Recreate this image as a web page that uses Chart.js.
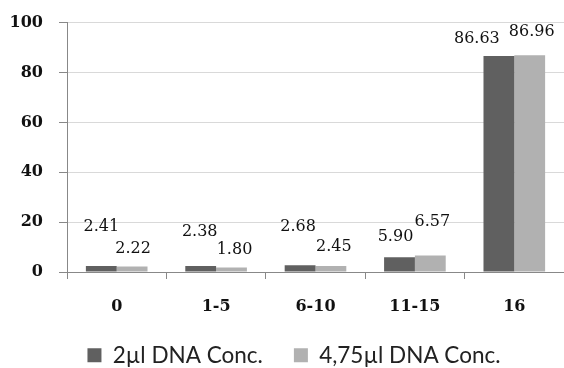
<!DOCTYPE html>
<html>
<head>
<meta charset="utf-8">
<script src="https://cdn.jsdelivr.net/npm/chart.js@4"></script>
<style>
  html, body { margin: 0; padding: 0; background: #fff; overflow: hidden; }
  #wrap { width: 564px; height: 368px; }
</style>
</head>
<body>
<div id="wrap"><canvas id="chart"></canvas></div>
<script>
const categories = ['0', '1-5', '6-10', '11-15', '16'];
const seriesNames = ['2\u00b5l DNA Conc.', '4,75\u00b5l DNA Conc.'];
const conc2 = [2.41, 2.38, 2.68, 5.90, 86.63];
const conc475 = [2.22, 1.80, 2.45, 6.57, 86.96];
const yTicks = [0, 20, 40, 60, 80, 100];

// hand-placed value labels, like the original (pixels above bar top / sideways shift)
const labelLift = [[39, 34, 38, 20, 17], [18, 18, 19, 34, 23]];
const labelShiftX = [[0, -1, -2, -4, -22], [1, 3, 3, 2, 2]];

const valueLabels = {
  id: 'valueLabels',
  afterDatasetsDraw(chart) {
    const c = chart.ctx;
    c.save();
    c.font = '16px "DejaVu Serif"';
    c.fillStyle = '#111';
    c.textAlign = 'center';
    c.textBaseline = 'middle';
    chart.data.datasets.forEach((ds, i) => {
      chart.getDatasetMeta(i).data.forEach((bar, j) => {
        c.fillText(ds.data[j].toFixed(2), bar.x + labelShiftX[i][j], bar.y - labelLift[i][j]);
      });
    });
    c.restore();
  }
};

// legend: wide item spacing but a short block, row sits near the bottom edge
const legendBox = {
  id: 'legendBox',
  beforeInit(chart) {
    const lg = chart.legend;
    if (!lg) return;
    const fit = lg.fit;
    lg.fit = function () { fit.call(this); this.height = 40; };
  },
  afterLayout(chart) {
    const lg = chart.legend;
    if (!lg) return;
    lg.top -= 15;
    lg.height += 15;
    lg.left += 12;
    lg.right += 12;
  }
};

function draw() {
  new Chart(document.getElementById('chart'), {
    type: 'bar',
    data: {
      labels: categories,
      datasets: [
        { label: seriesNames[0], data: conc2, backgroundColor: '#606060' },
        { label: seriesNames[1], data: conc475, backgroundColor: '#b1b1b1' }
      ]
    },
    options: {
      responsive: true,
      maintainAspectRatio: false,
      animation: false,
      layout: { padding: { top: 22.7, left: 0, right: 0, bottom: 0 } },
      datasets: { bar: { categoryPercentage: 0.62, barPercentage: 1.0 } },
      scales: {
        x: {
          grid: { drawOnChartArea: false, drawTicks: true, tickLength: 7, offset: true, color: '#888' },
          border: { color: '#888' },
          ticks: { color: '#111', font: { family: 'DejaVu Serif', size: 16, weight: 'bold' }, padding: 18 },
          afterFit(s) { s.height = 56; }
        },
        y: {
          min: 0,
          max: 100,
          afterBuildTicks(s) { s.ticks = yTicks.map(v => ({ value: v })); },
          grid: { color: '#d9d9d9', tickColor: '#888', tickLength: 8 },
          border: { color: '#888' },
          ticks: { color: '#111', font: { family: 'DejaVu Serif', size: 16, weight: 'bold' }, padding: 16 },
          afterFit(s) { s.width = 67; s.paddingTop = 0; s.paddingBottom = 0; }
        }
      },
      plugins: {
        legend: {
          position: 'bottom',
          labels: {
            color: '#222',
            font: { family: 'Lato', size: 22.5 },
            boxWidth: 14,
            boxHeight: 14,
            padding: 31
          }
        },
        tooltip: { enabled: false }
      }
    },
    plugins: [valueLabels, legendBox]
  });
}

Promise.all([
  document.fonts.load('bold 16px "DejaVu Serif"'),
  document.fonts.load('16px "DejaVu Serif"'),
  document.fonts.load('22px Lato')
]).then(draw, draw);
</script>
</body>
</html>
